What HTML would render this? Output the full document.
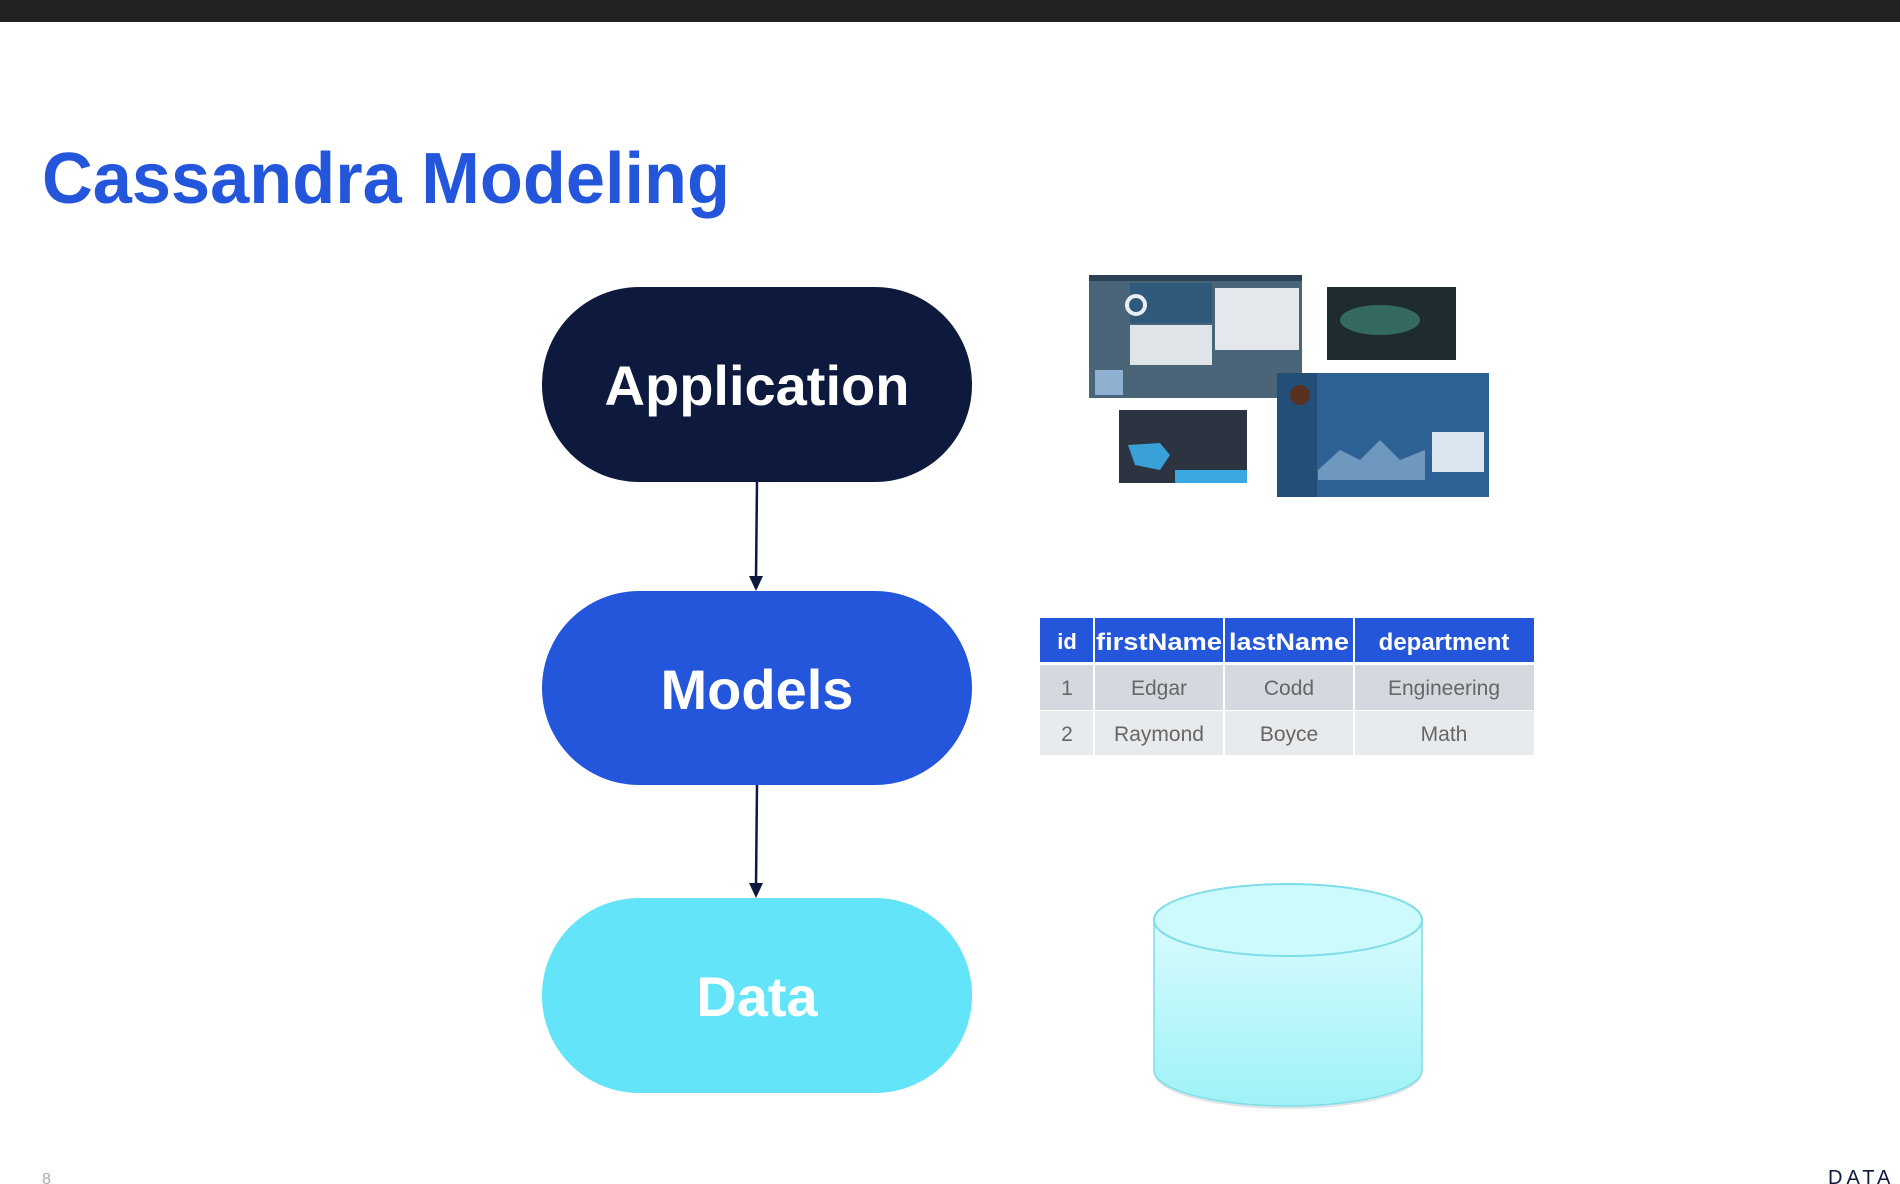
<!DOCTYPE html>
<html><head><meta charset="utf-8"><style>
html,body{margin:0;padding:0;background:#fff;width:1900px;height:1184px;overflow:hidden;font-family:"Liberation Sans",sans-serif}
</style></head><body>
<svg width="1900" height="1184" viewBox="0 0 1900 1184" xmlns="http://www.w3.org/2000/svg" font-family="Liberation Sans, sans-serif">
<rect x="0" y="0" width="1900" height="22" fill="#222"/>
<text x="42" y="203" font-size="72" font-weight="bold" fill="#2456dc" textLength="688" lengthAdjust="spacingAndGlyphs">Cassandra Modeling</text>

<rect x="542" y="287" width="430" height="195" rx="97" fill="#0d1a3e"/>
<text x="757" y="405" font-size="56" font-weight="bold" fill="#fff" text-anchor="middle">Application</text>
<rect x="542" y="591" width="430" height="194" rx="97" fill="#2456dc"/>
<text x="757" y="709" font-size="56" font-weight="bold" fill="#fff" text-anchor="middle">Models</text>
<rect x="542" y="898" width="430" height="195" rx="97" fill="#64e4f8"/>
<text x="757" y="1016" font-size="56" font-weight="bold" fill="#fff" text-anchor="middle">Data</text>

<line x1="757" y1="482" x2="756" y2="578" stroke="#0d1a3e" stroke-width="2.5"/>
<polygon points="749,576 763,576 756,591" fill="#0d1a3e"/>
<line x1="757" y1="785" x2="756" y2="885" stroke="#0d1a3e" stroke-width="2.5"/>
<polygon points="749,883 763,883 756,898" fill="#0d1a3e"/>

<!-- screenshots collage -->
<rect x="1089" y="275" width="213" height="123" fill="#4a6478"/>
<rect x="1089" y="275" width="213" height="6" fill="#2b4256"/>
<rect x="1130" y="283" width="82" height="40" fill="#2f5a7c"/>
<circle cx="1136" cy="305" r="9" fill="none" stroke="#e8eef4" stroke-width="4"/>
<rect x="1130" y="325" width="82" height="40" fill="#dfe4e8"/>
<rect x="1215" y="288" width="84" height="62" fill="#e4e8ec"/>
<rect x="1095" y="370" width="28" height="25" fill="#8fb0d0"/>
<rect x="1327" y="287" width="129" height="73" fill="#1e2b30"/>
<ellipse cx="1380" cy="320" rx="40" ry="15" fill="#3a7a6e" opacity="0.8"/>
<rect x="1119" y="410" width="128" height="73" fill="#2b3440"/>
<path d="M1128 445 L1160 443 L1170 455 L1160 470 L1135 465 Z" fill="#3aa0d8"/>
<rect x="1175" y="470" width="72" height="13" fill="#3aa8e0"/>
<rect x="1277" y="373" width="212" height="124" fill="#2e6294"/>
<rect x="1277" y="373" width="40" height="124" fill="#234e78"/>
<circle cx="1300" cy="395" r="10" fill="#5a3020"/>
<path d="M1318 470 L1340 450 L1360 460 L1380 440 L1400 460 L1425 450 L1425 480 L1318 480 Z" fill="#6f98be"/>
<rect x="1432" y="432" width="52" height="40" fill="#dce6ee"/>

<!-- table -->
<g font-size="24">
<rect x="1040" y="618" width="494" height="44" fill="#2456dc"/>
<rect x="1040" y="665" width="494" height="45" fill="#d3d9df"/>
<rect x="1040" y="711" width="494" height="44" fill="#e8ebee"/>
<g stroke="#fff" stroke-width="2"><line x1="1094" y1="618" x2="1094" y2="755"/><line x1="1224" y1="618" x2="1224" y2="755"/><line x1="1354" y1="618" x2="1354" y2="755"/><line x1="1040" y1="663" x2="1534" y2="663"/></g>
<g fill="#fff" font-weight="bold" text-anchor="middle">
<text x="1067" y="649" font-size="22">id</text><text x="1159" y="650" textLength="126" lengthAdjust="spacingAndGlyphs">firstName</text><text x="1289" y="650" textLength="120" lengthAdjust="spacingAndGlyphs">lastName</text><text x="1444" y="650">department</text></g>
<g fill="#666" text-anchor="middle" font-size="21">
<text x="1067" y="695">1</text><text x="1159" y="695">Edgar</text><text x="1289" y="695">Codd</text><text x="1444" y="695">Engineering</text>
<text x="1067" y="741">2</text><text x="1159" y="741">Raymond</text><text x="1289" y="741">Boyce</text><text x="1444" y="741">Math</text></g>
</g>

<!-- cylinder -->
<defs><linearGradient id="cg" x1="0" y1="0" x2="0" y2="1"><stop offset="0" stop-color="#d8fbfd"/><stop offset="1" stop-color="#9ef2f7"/></linearGradient></defs>
<ellipse cx="1288" cy="1073" rx="134" ry="36" fill="#c8d4d6" opacity="0.6"/>
<path d="M1154 920 L1154 1070 A134 36 0 0 0 1422 1070 L1422 920 Z" fill="url(#cg)" stroke="#7fdde8" stroke-width="1.5"/>
<ellipse cx="1288" cy="920" rx="134" ry="36" fill="#cdfafc" stroke="#7fdde8" stroke-width="2"/>

<text x="42" y="1184" font-size="16" fill="#aaa">8</text>
<text x="1828" y="1184" font-size="20" fill="#0d1a3e" letter-spacing="4">DATA</text>
</svg>
</body></html>
